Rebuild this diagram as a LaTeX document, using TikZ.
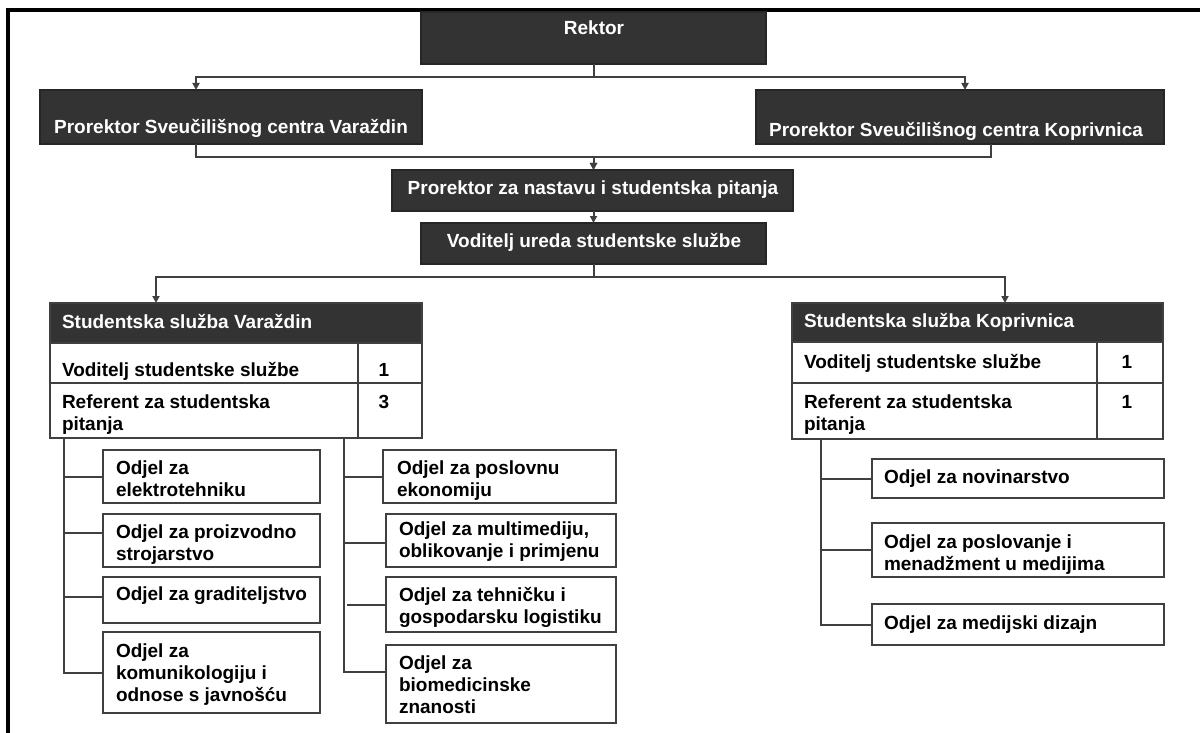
\documentclass[tikz,border=0pt]{standalone}
\usepackage{fontspec}
\setmainfont{Liberation Sans}
\usetikzlibrary{arrows.meta,calc}
\definecolor{dk}{HTML}{333333}
\definecolor{ln}{HTML}{404040}
\newcommand{\ml}[1]{\begin{tabular}[t]{@{}l@{}}#1\end{tabular}}
\begin{document}
\begin{tikzpicture}[x=1pt,y=-1pt,
  every node/.style={inner sep=0pt,outer sep=0pt},
  dbox/.style={draw=black!85,fill=dk,line width=1.5pt,rectangle,anchor=north west},
  wbox/.style={draw=ln,fill=white,line width=2.2pt,rectangle,anchor=north west},
  conn/.style={draw=ln,line width=2pt},
  arr/.style={conn,-{Triangle[width=7pt,length=7pt]}},
  wt/.style={text=white,font=\fontsize{19}{22}\selectfont\bfseries},
  bt/.style={text=black,font=\fontsize{19}{22}\selectfont\bfseries},
]
\useasboundingbox (0,0) rectangle (1200,733);
\fill[white] (0,0) rectangle (1200,733);
\draw[line width=4pt,black] (7.5,733) -- (7.5,10) -- (1200,10);

% top boxes
\node[dbox,minimum width=345,minimum height=52] (R) at (421,12) {};
\node[dbox,minimum width=382,minimum height=54] (PV) at (40,90) {};
\node[dbox,minimum width=408,minimum height=54] (PK) at (756,90) {};
\node[dbox,minimum width=401,minimum height=41] (PN) at (392,170) {};
\node[dbox,minimum width=345,minimum height=41] (VU) at (421,223) {};
\node[wt,anchor=base] (tR) at (594,35) {Rektor};
\node[wt,anchor=base] (tPV) at (231,134) {Prorektor Sveučilišnog centra Varaždin};
\node[wt,anchor=base] (tPK) at (956,137) {Prorektor Sveučilišnog centra Koprivnica};
\node[wt,anchor=base] (tPN) at (593,194) {Prorektor za nastavu i studentska pitanja};
\node[wt,anchor=base] (tVU) at (594,247) {Voditelj ureda studentske službe};

% table Varazdin
\node[dbox,draw=ln,minimum width=372,minimum height=40] (TVh) at (50,303) {};
\node[wbox,minimum width=308,minimum height=40] (TVr1) at (50,343) {};
\node[wbox,minimum width=64,minimum height=40] (TVn1) at (358,343) {};
\node[wbox,minimum width=308,minimum height=55] (TVr2) at (50,383) {};
\node[wbox,minimum width=64,minimum height=55] (TVn2) at (358,383) {};
\node[wt,anchor=base west] (tTVh) at (62,328) {Studentska služba Varaždin};
\node[bt,anchor=base west] (tTVr1) at (62,376) {Voditelj studentske službe};
\node[bt,anchor=base] (tTVn1) at (384,376) {1};
\node[bt,anchor=base west] (tTVr2) at (62,408) {\ml{Referent za studentska\\pitanja}};
\node[bt,anchor=base] (tTVn2) at (384,408) {3};

% table Koprivnica
\node[dbox,draw=ln,minimum width=371,minimum height=39] (TKh) at (792,303) {};
\node[wbox,minimum width=305,minimum height=41] (TKr1) at (792,342) {};
\node[wbox,minimum width=66,minimum height=41] (TKn1) at (1097,342) {};
\node[wbox,minimum width=305,minimum height=56] (TKr2) at (792,383) {};
\node[wbox,minimum width=66,minimum height=56] (TKn2) at (1097,383) {};
\node[wt,anchor=base west] (tTKh) at (804,327) {Studentska služba Koprivnica};
\node[bt,anchor=base west] (tTKr1) at (804,368) {Voditelj studentske službe};
\node[bt,anchor=base] (tTKn1) at (1127,368) {1};
\node[bt,anchor=base west] (tTKr2) at (804,408) {\ml{Referent za studentska\\pitanja}};
\node[bt,anchor=base] (tTKn2) at (1127,408) {1};

% left column
\node[wbox,minimum width=217,minimum height=53] (B1) at (103,450) {};
\node[wbox,minimum width=217,minimum height=53] (B2) at (103,514) {};
\node[wbox,minimum width=217,minimum height=46] (B3) at (103,577) {};
\node[wbox,minimum width=217,minimum height=81] (B4) at (103,632) {};
\node[bt,anchor=base west] (tB1) at (116,474) {\ml{Odjel za\\elektrotehniku}};
\node[bt,anchor=base west] (tB2) at (116,538) {\ml{Odjel za proizvodno\\strojarstvo}};
\node[bt,anchor=base west] (tB3) at (116,600) {Odjel za graditeljstvo};
\node[bt,anchor=base west] (tB4) at (116,657) {\ml{Odjel za\\komunikologiju i\\odnose s javnošću}};

% middle column
\node[wbox,minimum width=233,minimum height=53] (M1) at (383,450) {};
\node[wbox,minimum width=230,minimum height=53] (M2) at (386,514) {};
\node[wbox,minimum width=230,minimum height=55] (M3) at (386,577) {};
\node[wbox,minimum width=230,minimum height=78] (M4) at (386,645) {};
\node[bt,anchor=base west] (tM1) at (397,474) {\ml{Odjel za poslovnu\\ekonomiju}};
\node[bt,anchor=base west] (tM2) at (399,535) {\ml{Odjel za multimediju,\\oblikovanje i primjenu}};
\node[bt,anchor=base west] (tM3) at (399,601) {\ml{Odjel za tehničku i\\gospodarsku logistiku}};
\node[bt,anchor=base west] (tM4) at (399,669) {\ml{Odjel za\\biomedicinske\\znanosti}};

% right column
\node[wbox,minimum width=292,minimum height=39] (K1) at (872,459) {};
\node[wbox,minimum width=292,minimum height=54] (K2) at (872,523) {};
\node[wbox,minimum width=292,minimum height=41] (K3) at (872,604) {};
\node[bt,anchor=base west] (tK1) at (884,483) {Odjel za novinarstvo};
\node[bt,anchor=base west] (tK2) at (884,548) {\ml{Odjel za poslovanje i\\menadžment u medijima}};
\node[bt,anchor=base west] (tK3) at (884,629) {Odjel za medijski dizajn};

% connectors top
\draw[arr] (R.south) -- ++(0,13) -| ([xshift=156pt]PV.north west);
\draw[arr] (R.south) -- ++(0,13) -| ([xshift=209pt]PK.north west);
\draw[arr] ([xshift=156pt]PV.south west) -- ++(0,13) -| (VU.north |- PN.north);
\draw[arr] ([xshift=235pt]PK.south west) -- ++(0,13) -| (VU.north |- PN.north);
\draw[arr] (VU.north |- PN.south) -- (VU.north);
\draw[arr] (VU.south) -- ++(0,13) -| ([xshift=106pt]TVh.north west);
\draw[arr] (VU.south) -- ++(0,13) -| ([xshift=213pt]TKh.north west);

% spines
\coordinate (sv) at ([xshift=14pt]TVr2.south west);
\coordinate (sm) at ([xshift=294pt]TVr2.south west);
\coordinate (sk) at ([xshift=29pt]TKr2.south west);
\draw[conn] (sv) |- (B4.west);
\draw[conn] (B1.west) -- (B1.west -| sv);
\draw[conn] ([yshift=7.5pt]B2.west) -- ([yshift=7.5pt]B2.west -| sv);
\draw[conn] ([yshift=3pt]B3.west) -- ([yshift=3pt]B3.west -| sv);
\draw[conn] (sm) |- ([yshift=12pt]M4.west);
\draw[conn] (M1.west) -- (M1.west -| sm);
\draw[conn] ([yshift=-2.5pt]M2.west) -- ([yshift=-2.5pt]M2.west -| sm);
\draw[conn] (M3.west) -- ([xshift=3pt]M3.west -| sm);
\draw[conn] (sk) |- (K3.west);
\draw[conn] (K1.west) -- (K1.west -| sk);
\draw[conn] (K2.west) -- (K2.west -| sk);
\end{tikzpicture}
\end{document}
